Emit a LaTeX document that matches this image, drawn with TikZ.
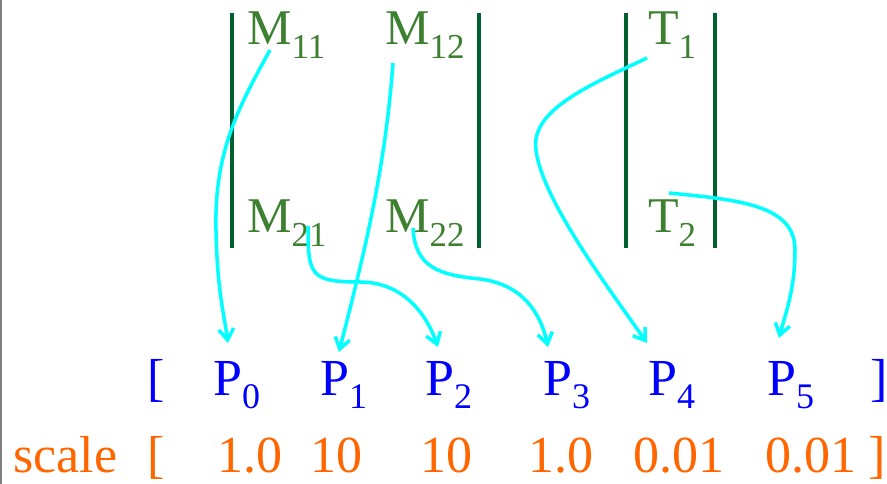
\documentclass[tikz,border=0pt]{standalone}
\usepackage{fontspec}
\setmainfont{Liberation Serif}
\usetikzlibrary{arrows.meta}
\definecolor{mgreen}{RGB}{61,128,48}
\definecolor{bargreen}{RGB}{0,96,48}
\definecolor{pblue}{RGB}{0,0,255}
\definecolor{sorange}{RGB}{255,102,0}
\definecolor{acyan}{RGB}{0,255,255}
\newcommand\msub[1]{\raisebox{-14pt}{\fontsize{35}{40}\selectfont #1}}
\newcommand\psub[1]{\raisebox{-13pt}{\fontsize{36}{40}\selectfont #1}}
\tikzset{
  mlabel/.style={anchor=base west,inner sep=0pt,text=mgreen,font=\fontsize{50}{60}\selectfont},
  plabel/.style={anchor=base west,inner sep=0pt,text=pblue,font=\fontsize{52}{60}\selectfont},
  slabel/.style={anchor=base west,inner sep=0pt,text=sorange,font=\fontsize{52}{60}\selectfont},
  delim/.style={draw=bargreen,line width=4pt},
  maparrow/.style={draw=acyan,line width=3.5pt,-{Straight Barb[length=11pt,width=15pt]}}
}
\begin{document}
\begin{tikzpicture}[x=1pt,y=-1pt]
\useasboundingbox (0,0) rectangle (887,484);
\draw[gray,line width=1.5pt] (0.75,0) -- (0.75,484);
% matrix delimiters
\draw[delim] (232,13) -- (232,248);
\draw[delim] (479,13) -- (479,248);
\draw[delim] (626,13) -- (626,248);
\draw[delim] (715,13) -- (715,248);
% matrix entries
\node[mlabel] (m11) at (247,45) {M\msub{11}};
\node[mlabel] (m12) at (385,45) {M\msub{12}};
\node[mlabel] (m21) at (247,233) {M\msub{21}};
\node[mlabel] (m22) at (385,233) {M\msub{22}};
\node[mlabel] (t1) at (648,45) {T\msub{1}};
\node[mlabel] (t2) at (648,233) {T\msub{2}};
% parameter row
\node[plabel] (lb) at (147,395) {[};
\node[plabel] (p0) at (213,395) {P\psub{0}};
\node[plabel] (p1) at (320,395) {P\psub{1}};
\node[plabel] (p2) at (425,395) {P\psub{2}};
\node[plabel] (p3) at (543,395) {P\psub{3}};
\node[plabel] (p4) at (648,395) {P\psub{4}};
\node[plabel] (p5) at (767,395) {P\psub{5}};
\node[plabel] (rb) at (870,395) {]};
% scale row
\node[slabel] (scale) at (13,472) {scale};
\node[slabel] (slb) at (147,472) {[};
\node[slabel] (s0) at (217,472) {1.0};
\node[slabel] (s1) at (310,472) {10};
\node[slabel] (s2) at (420,472) {10};
\node[slabel] (s3) at (528,472) {1.0};
\node[slabel] (s4) at (633,472) {0.01};
\node[slabel] (s5) at (765,472) {0.01};
\node[slabel] (srb) at (868,472) {]};
% mapping arrows
\draw[maparrow] ([shift={(23,5)}]m11.base west) .. controls (240,105) and (214,150) .. (216,230)
  .. controls (217,290) and (225,320) .. ([shift={(15,-52)}]p0.base west);
\draw[maparrow] ([shift={(8,18)}]m12.base west) .. controls (385,170) and (365,250) .. ([shift={(19,-43)}]p1.base west);
\draw[maparrow] ([shift={(61,-7)}]m21.base west) .. controls (308,275) and (310,282) .. (360,282)
  .. controls (400,282) and (425,310) .. ([shift={(13,-48)}]p2.base west);
\draw[maparrow] ([shift={(28,-5)}]m22.base west) .. controls (415,268) and (440,275) .. (480,279)
  .. controls (520,284) and (540,310) .. ([shift={(5,-48)}]p3.base west);
\draw[maparrow] ([shift={(-1,13)}]t1.base west) .. controls (590,85) and (530,110) .. (536,150)
  .. controls (542,200) and (610,290) .. ([shift={(-1,-52)}]p4.base west);
\draw[maparrow] ([shift={(21,-40)}]t2.base west) .. controls (740,200) and (795,205) .. (795,250)
  .. controls (795,290) and (785,315) .. ([shift={(12,-57)}]p5.base west);
\end{tikzpicture}
\end{document}
